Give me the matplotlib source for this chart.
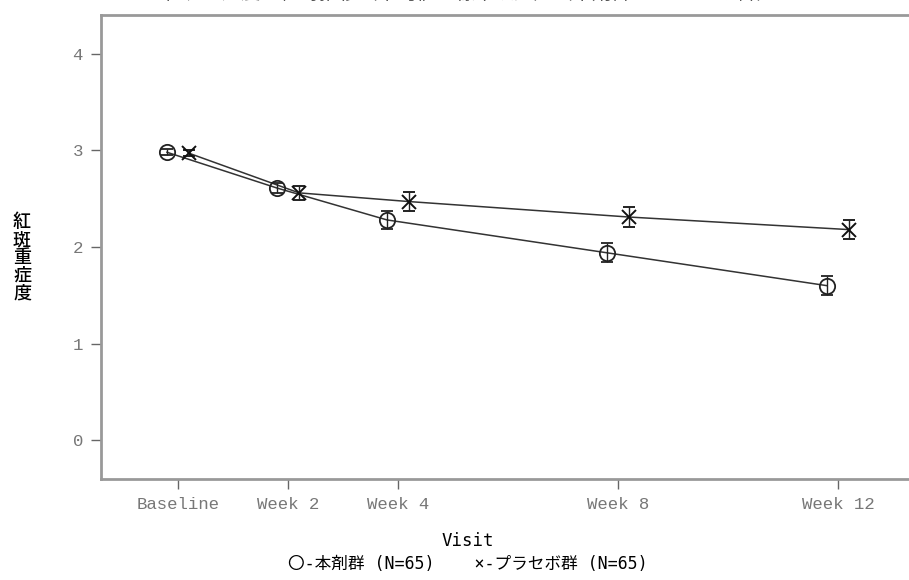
import matplotlib.pyplot as plt

plt.rcParams['font.family'] = ['Noto Sans CJK JP', 'DejaVu Sans']

# visit schedule (weeks) and tick labels
weeks = [0, 2, 4, 8, 12]
visit_labels = ['Baseline', 'Week 2', 'Week 4', 'Week 8', 'Week 12']

# mean erythema severity and standard error per group
active_mean = [2.98, 2.61, 2.28, 1.94, 1.60]
active_se = [0.03, 0.05, 0.09, 0.10, 0.10]
placebo_mean = [2.97, 2.56, 2.47, 2.31, 2.18]
placebo_se = [0.03, 0.07, 0.10, 0.10, 0.10]

offset = 0.2
fig = plt.figure(figsize=(9.09, 5.80), dpi=100)
ax = fig.add_axes([101 / 909, 1 - 479 / 580, (948 - 101) / 909, (479 - 15) / 580])

x_act = [w - offset for w in weeks]
x_pla = [w + offset for w in weeks]

ax.plot(x_act, active_mean, color='#333333', lw=1.1, zorder=2)
ax.plot(x_pla, placebo_mean, color='#333333', lw=1.1, zorder=2)
ax.errorbar(x_act, active_mean, yerr=active_se, fmt='o', ms=11, mfc='none',
            mec='#222222', mew=1.3, ecolor='#222222', elinewidth=1.0,
            capsize=4, capthick=1.0, zorder=3)
ax.errorbar(x_pla, placebo_mean, yerr=placebo_se, fmt='x', ms=10,
            mec='#111111', mew=1.4, ecolor='#222222', elinewidth=1.0,
            capsize=4, capthick=1.0, zorder=3)

ax.set_xlim(-1.4, 14)
ax.set_ylim(-0.4, 4.4)
ax.set_xticks(weeks)
ax.set_xticklabels(visit_labels)
ax.set_yticks([0, 1, 2, 3, 4])

for side in ['left', 'bottom', 'top']:
    ax.spines[side].set_color('#999999')
    ax.spines[side].set_linewidth(2)
ax.spines['right'].set_visible(False)
ax.tick_params(colors='#666666', length=7, width=1, pad=6)
for lab in ax.get_xticklabels() + ax.get_yticklabels():
    lab.set_family('Liberation Mono')
    lab.set_fontsize(12.5)
    lab.set_color('#777777')

mono_cjk = ['DejaVu Sans Mono', 'Noto Sans CJK JP']

# vertical y label, one character per line
fig.text(22 / 909, 1 - 258 / 580, '\n'.join('紅斑重症度'), ha='center', va='center',
         fontsize=13, linespacing=1.0, fontweight='medium')
fig.text(468 / 909, 1 - 541 / 580, 'Visit', ha='center', va='center',
         fontsize=12.5, family=mono_cjk)
fig.text(468 / 909, 1 - 564 / 580, '〇-本剤群 (N=65)    ×-プラセボ群 (N=65)',
         ha='center', va='center', fontsize=12, family=mono_cjk)

# title sits above the top edge of the figure
fig.text(470 / 909, 1 + 7 / 580, '紅斑重症度の経時推移（平均値±標準誤差）（本剤群 vs プラセボ群）',
         ha='center', va='center', fontsize=14, color='#555555')

fig.savefig('out.png', dpi=100)
